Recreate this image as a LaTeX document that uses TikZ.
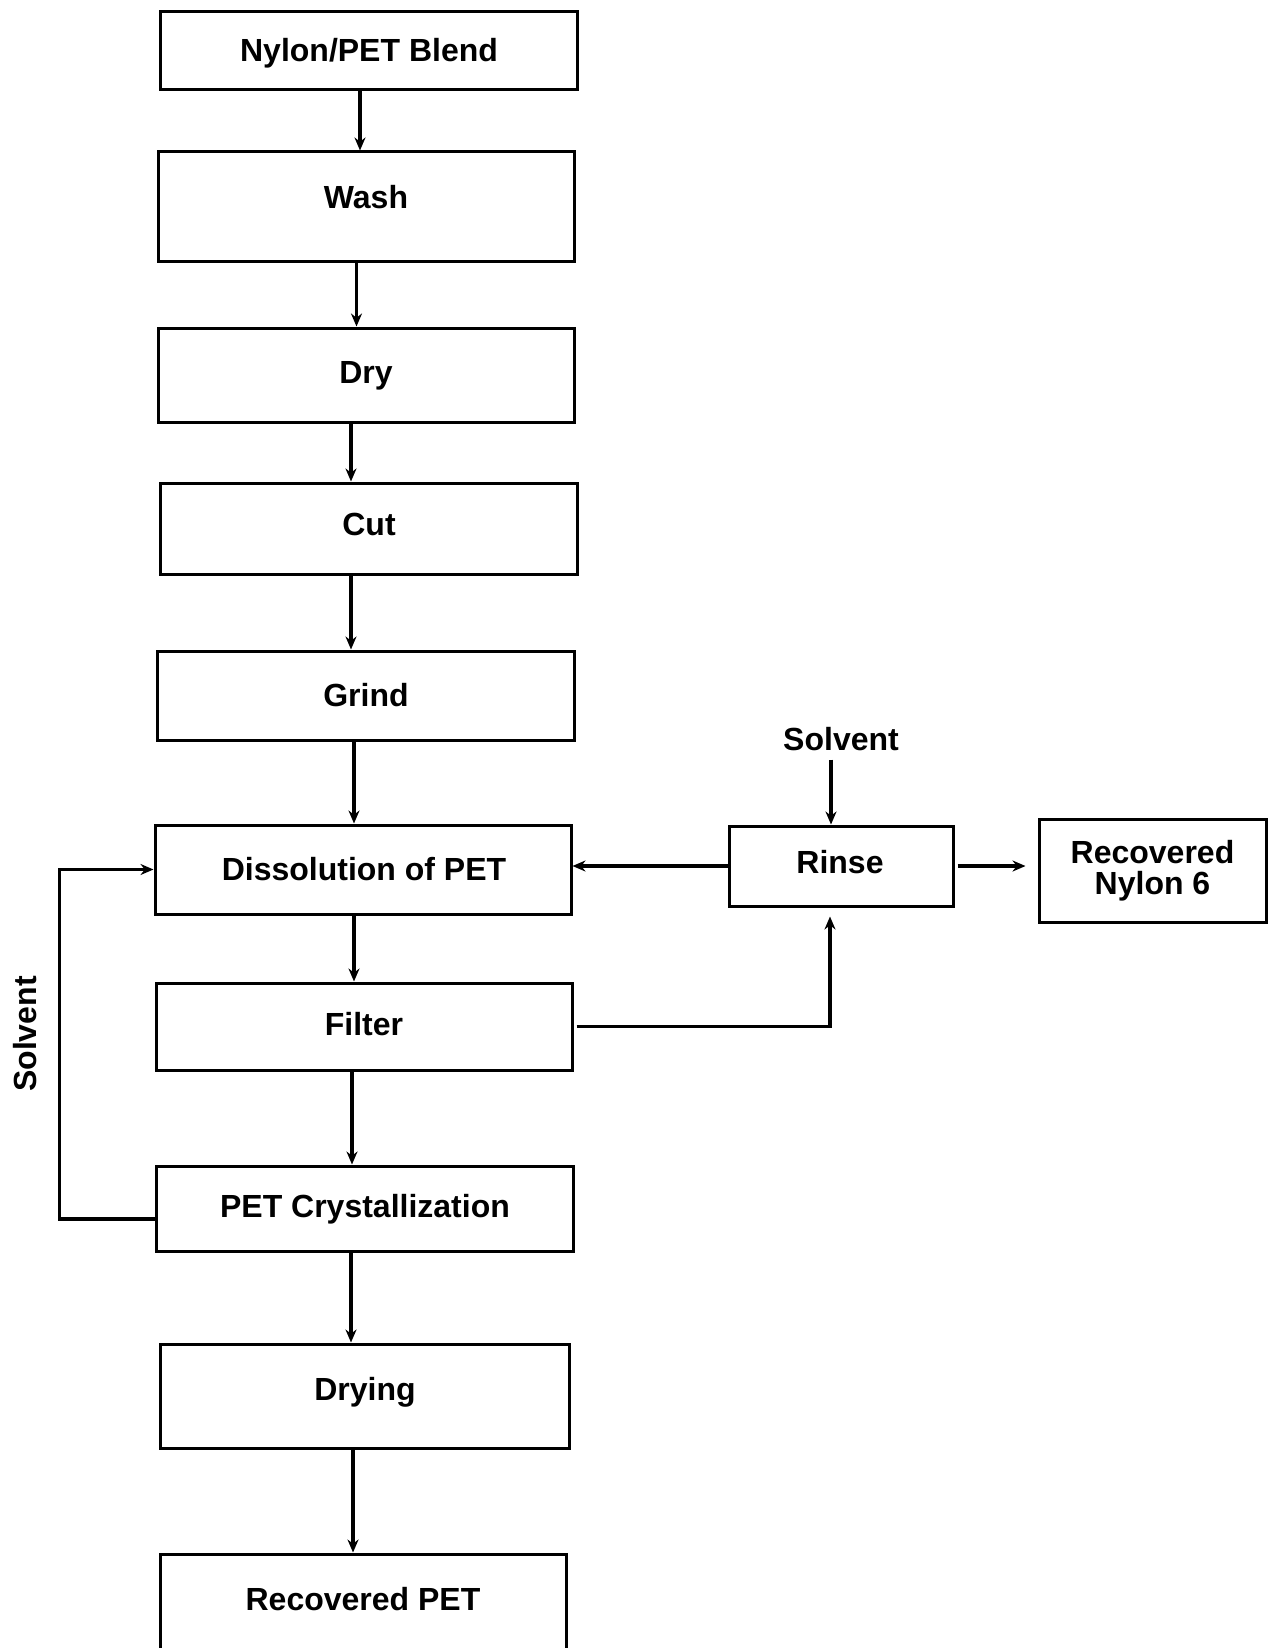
\documentclass[tikz,border=0pt]{standalone}
\usepackage{fontspec}
\setmainfont{Liberation Sans}
\usetikzlibrary{arrows.meta}
\begin{document}
\begin{tikzpicture}[x=1pt,y=-1pt,
  box/.style={draw,line width=3pt,inner sep=0pt,align=center,
    font=\fontsize{32}{31.5}\selectfont\bfseries},
  lbl/.style={anchor=base,inner sep=0pt,font=\fontsize{32}{31.5}\selectfont\bfseries},
  arr/.style={line width=3.4pt,-{Stealth[length=13pt,width=11pt]}}]
\useasboundingbox (0,0) rectangle (1267,1648);
\fill[white] (0,0) rectangle (1267,1648);

% boxes
\node[box,minimum width=417pt,minimum height=78pt]  (blend)  at (368.5,51)   {};
\node[box,minimum width=416pt,minimum height=109pt] (wash)   at (366,206.5)  {};
\node[box,minimum width=416pt,minimum height=94pt]  (dry)    at (366,375)    {};
\node[box,minimum width=417pt,minimum height=91pt]  (cut)    at (368.5,528.5){};
\node[box,minimum width=417pt,minimum height=89pt]  (grind)  at (365.5,695.5){};
\node[box,minimum width=416pt,minimum height=89pt]  (diss)   at (363,869.5)  {};
\node[box,minimum width=416pt,minimum height=87pt]  (filter) at (364,1026.5) {};
\node[box,minimum width=417pt,minimum height=85pt]  (cryst)  at (364.5,1208.5){};
\node[box,minimum width=409pt,minimum height=104pt] (drying) at (364.5,1396) {};
\node[box,minimum width=406pt,minimum height=146pt] (recpet) at (363,1627)   {};
\node[box,minimum width=224pt,minimum height=80pt]  (rinse)  at (841,866)    {};
\node[box,minimum width=227pt,minimum height=103pt] (nylon)  at (1152.5,870.5) {Recovered\\Nylon 6};

% labels
\node[lbl] (blendt)  at (369,62)    {Nylon/PET Blend};
\node[lbl] (washt)   at (366,208)   {Wash};
\node[lbl] (dryt)    at (366,383)   {Dry};
\node[lbl] (cutt)    at (369,535)   {Cut};
\node[lbl] (grindt)  at (366,706)   {Grind};
\node[lbl] (disst)   at (364,880)   {Dissolution of PET};
\node[lbl] (filtert) at (364,1035)  {Filter};
\node[lbl] (crystt)  at (365,1217)  {PET Crystallization};
\node[lbl] (dryingt) at (365,1400)  {Drying};
\node[lbl] (recpett) at (363,1610)  {Recovered PET};
\node[lbl] (rinset)  at (840,873)   {Rinse};
\node[lbl] (solv)    at (841,750)   {Solvent};
\node[lbl,anchor=center,rotate=90] (solvl) at (25,1034) {Solvent};

% main column
\draw[arr] ([xshift=-8.5pt]blend.south)  -- ([xshift=-8.5pt]blend.south |- wash.north);
\draw[arr] ([xshift=-9.5pt]wash.south)   -- ([xshift=-9.5pt]wash.south |- dry.north);
\draw[arr] ([xshift=-15pt]dry.south)     -- ([xshift=-15pt]dry.south |- cut.north);
\draw[arr] ([xshift=-17.5pt]cut.south)   -- ([xshift=-17.5pt]cut.south |- grind.north);
\draw[arr] ([xshift=-11.5pt]grind.south) -- ([xshift=-11.5pt]grind.south |- diss.north);
\draw[arr] ([xshift=-9pt]diss.south)     -- ([xshift=-9pt]diss.south |- filter.north);
\draw[arr] ([xshift=-12pt]filter.south)  -- ([xshift=-12pt]filter.south |- cryst.north);
\draw[arr] ([xshift=-13.5pt]cryst.south) -- ([xshift=-13.5pt]cryst.south |- drying.north);
\draw[arr] ([xshift=-11.5pt]drying.south)-- ([xshift=-11.5pt]drying.south |- recpet.north);

% solvent recycle loop
\draw[arr] ([yshift=-10.5pt]cryst.west) -- ++(-95,0) |- (diss.west);

% rinse connections
\draw[arr,shorten <=9pt] ([xshift=-10pt]solv.south) -- ([xshift=-10pt]rinse.north);
\draw[arr] (rinse.west) -- (rinse.west -| diss.east);
\draw[arr,shorten <=3pt,shorten >=12pt] (rinse.east) -- (rinse.east -| nylon.west);
\draw[arr,shorten <=3pt,shorten >=9pt] (filter.east) -| ([xshift=-11pt]rinse.south);
\end{tikzpicture}
\end{document}
